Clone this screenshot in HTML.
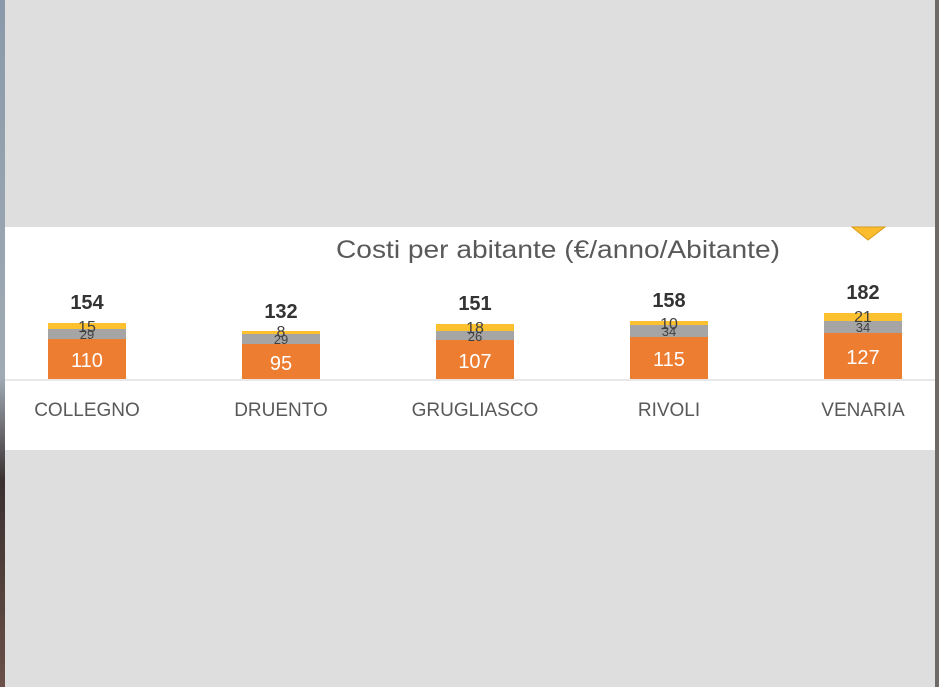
<!DOCTYPE html>
<html><head><style>
body{margin:0;width:939px;height:687px;overflow:hidden;background:#dedede;font-family:"Liberation Sans",sans-serif;}
</style></head><body>
<svg width="939" height="687" xmlns="http://www.w3.org/2000/svg" style="position:absolute;left:0;top:0">
<defs><linearGradient id="lg" x1="0" y1="0" x2="0" y2="1"><stop offset="0" stop-color="#8a9aaa"/><stop offset="0.55" stop-color="#a0aab4"/><stop offset="0.7" stop-color="#3a3030"/><stop offset="1" stop-color="#6a5048"/></linearGradient></defs>
<rect x="0" y="0" width="5" height="687" fill="url(#lg)"/>
<rect x="935" y="0" width="4" height="687" fill="#6f6a66"/>
<rect x="5" y="227" width="930" height="223" fill="#fff"/>
<polygon points="852,227 885,227 868,240" fill="#fbbd2d" stroke="#d89a1a" stroke-width="1"/>
<text x="336" y="258" textLength="444" lengthAdjust="spacingAndGlyphs" font-size="25" fill="#595959">Costi per abitante (€/anno/Abitante)</text>
<line x1="5" y1="380" x2="935" y2="380" stroke="#e0e0e0" stroke-width="1.5"/>
<g font-size="19" fill="#595959" text-anchor="middle">
<text x="87" y="416">COLLEGNO</text><text x="281" y="416">DRUENTO</text><text x="475" y="416">GRUGLIASCO</text><text x="669" y="416">RIVOLI</text><text x="863" y="416">VENARIA</text>
</g>
<g>
<rect x="48" y="323" width="78" height="6" fill="#fdc02e"/><rect x="48" y="329" width="78" height="10" fill="#a5a5a5"/><rect x="48" y="339" width="78" height="40" fill="#ed7d31"/>
<rect x="242" y="331" width="78" height="3" fill="#fdc02e"/><rect x="242" y="334" width="78" height="10" fill="#a5a5a5"/><rect x="242" y="344" width="78" height="35" fill="#ed7d31"/>
<rect x="436" y="324" width="78" height="7" fill="#fdc02e"/><rect x="436" y="331" width="78" height="9" fill="#a5a5a5"/><rect x="436" y="340" width="78" height="39" fill="#ed7d31"/>
<rect x="630" y="321" width="78" height="4" fill="#fdc02e"/><rect x="630" y="325" width="78" height="12" fill="#a5a5a5"/><rect x="630" y="337" width="78" height="42" fill="#ed7d31"/>
<rect x="824" y="313" width="78" height="8" fill="#fdc02e"/><rect x="824" y="321" width="78" height="12" fill="#a5a5a5"/><rect x="824" y="333" width="78" height="46" fill="#ed7d31"/>
</g>
<g font-size="20" fill="#fff" text-anchor="middle">
<text x="87" y="367">110</text><text x="281" y="370">95</text><text x="475" y="368">107</text><text x="669" y="366">115</text><text x="863" y="364">127</text>
</g>
<g font-size="13" fill="#404040" text-anchor="middle">
<text x="87" y="339">29</text><text x="281" y="344">29</text><text x="475" y="341">26</text><text x="669" y="336">34</text><text x="863" y="332">34</text>
</g>
<g font-size="16" fill="#404040" text-anchor="middle">
<text x="87" y="332">15</text><text x="281" y="337">8</text><text x="475" y="333">18</text><text x="669" y="329">10</text><text x="863" y="322">21</text>
</g>
<g font-size="20" font-weight="bold" fill="#333" text-anchor="middle">
<text x="87" y="309">154</text><text x="281" y="318">132</text><text x="475" y="310">151</text><text x="669" y="307">158</text><text x="863" y="299">182</text>
</g>
</svg>
</body></html>
